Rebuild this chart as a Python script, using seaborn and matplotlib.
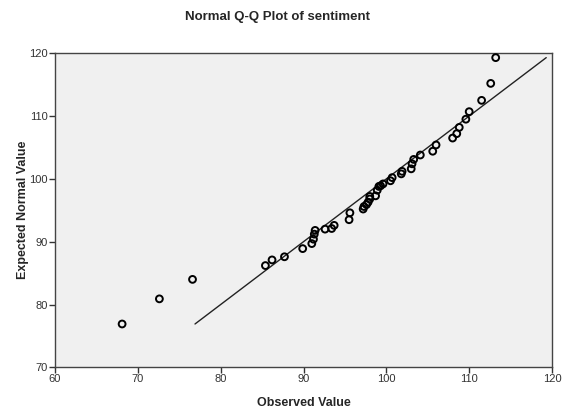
import matplotlib
matplotlib.use("Agg")
import matplotlib.pyplot as plt
import seaborn as sns
import pandas as pd
import numpy as np

# Observed sentiment scores and their expected normal quantiles
observed = [68.1, 72.6, 76.6, 85.4, 86.2, 87.7, 89.9, 91.0, 91.2, 91.3,
            91.4, 92.6, 93.4, 93.7, 95.5, 95.6, 97.2, 97.3, 97.6, 97.8,
            98.0, 98.0, 98.7, 98.9, 99.1, 99.3, 99.6, 100.5, 100.7, 101.8,
            101.9, 103.0, 103.1, 103.3, 104.1, 105.6, 106.0, 108.0, 108.5, 108.8,
            109.6, 110.0, 111.5, 112.6, 113.2]
expected = [76.9, 80.9, 84.0, 86.2, 87.1, 87.6, 88.9, 89.7, 90.4, 91.2,
            91.8, 92.0, 92.1, 92.6, 93.5, 94.6, 95.2, 95.6, 95.9, 96.3,
            96.8, 97.2, 97.3, 98.2, 98.8, 98.9, 99.2, 99.7, 100.2, 100.8,
            101.2, 101.6, 102.4, 103.1, 103.8, 104.4, 105.4, 106.5, 107.2, 108.2,
            109.5, 110.7, 112.5, 115.2, 119.3]

x_ticks = [60, 70, 80, 90, 100, 110, 120]
y_ticks = [70, 80, 90, 100, 110, 120]

sns.set_theme(style="white")
plt.rcParams["font.family"] = ["Liberation Sans", "DejaVu Sans"]

df = pd.DataFrame({"Observed Value": observed, "Expected Normal Value": expected})
ref = pd.DataFrame({"x": [min(expected), max(expected)],
                    "y": [min(expected), max(expected)]})

fig = plt.figure(figsize=(5.66, 4.16), dpi=100)
ax = fig.add_axes([0.0972, 0.117, 0.8781, 0.755])
ax.set_facecolor("#f0f0f0")

sns.lineplot(data=ref, x="x", y="y", ax=ax, color="#222222", linewidth=1.0)
sns.scatterplot(data=df, x="Observed Value", y="Expected Normal Value", ax=ax,
                marker="o", s=24, facecolor="none", edgecolor="black",
                linewidth=1.4, zorder=3)

ax.set_xlim(x_ticks[0], x_ticks[-1])
ax.set_ylim(y_ticks[0], y_ticks[-1])
ax.set_xticks(x_ticks)
ax.set_yticks(y_ticks)
ax.tick_params(axis="both", direction="out", length=4, width=1,
               color="#333333", labelsize=8, labelcolor="#333333", pad=1,
               bottom=True, left=True)
for s in ax.spines.values():
    s.set_color("#444444")
    s.set_linewidth(1.0)

ax.set_xlabel("Observed Value", fontsize=9, fontweight="bold", labelpad=9)
ax.set_ylabel("Expected Normal Value", fontsize=9, fontweight="bold", labelpad=0.5)
fig.text(0.49, 0.96, "Normal Q-Q Plot of sentiment", ha="center", va="center",
         fontsize=9.5, fontweight="bold")

fig.savefig("out.png", dpi=100)
